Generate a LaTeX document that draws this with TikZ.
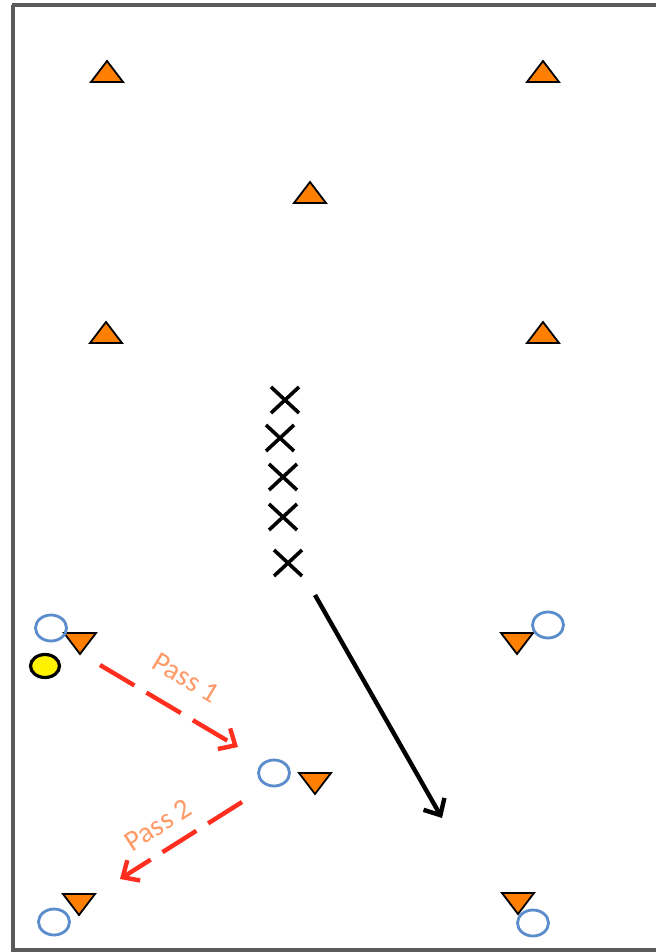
\documentclass[tikz,border=0pt]{standalone}
\usepackage{fontspec}
\setmainfont{Carlito}
\usetikzlibrary{arrows.meta,shapes.geometric}
\definecolor{cone}{HTML}{FF7F00}
\definecolor{plblue}{HTML}{5B8CCB}
\definecolor{passred}{HTML}{FF2E1F}
\definecolor{passtxt}{HTML}{FF9A66}
\definecolor{framegray}{HTML}{5A5A5A}
\tikzset{
  x=1pt, y=-1pt,
  frameline/.style={draw=framegray, line width=3.5pt},
  conestyle/.style={fill=cone, draw=black, line width=1.8pt, line join=miter},
  player/.style={draw=plblue, line width=2.8pt, ellipse, minimum width=31pt, minimum height=26pt, inner sep=0pt},
  ballstyle/.style={draw=black, fill=yellow, line width=3.2pt, ellipse, minimum width=29pt, minimum height=23pt, inner sep=0pt},
  xmark/.style={draw=black, line width=3.6pt},
  passline/.style={draw=passred, line width=4.4pt, dash pattern=on 40pt off 14pt, -{Straight Barb[length=13pt,width=24pt,line width=4.4pt]}},
  runline/.style={draw=black, line width=4.4pt, -{Straight Barb[length=13pt,width=24pt,line width=4.4pt]}},
  passlabel/.style={text=passtxt, font=\fontsize{29}{29}\selectfont, inner sep=1pt},
  pics/coneup/.style={code={\path[conestyle] (-16,10) -- (0,-11) -- (16,10) -- cycle;}},
  pics/conedown/.style={code={\path[conestyle] (-16,-10) -- (0,11) -- (16,-10) -- cycle;}},
  pics/xplayer/.style={code={\draw[xmark] (-14,-13) -- (14,13); \draw[xmark] (-14,13) -- (14,-13);}},
}
\begin{document}
\begin{tikzpicture}
\useasboundingbox (0,0) rectangle (656,952);
\fill[white] (0,0) rectangle (656,952);
% frame
\draw[frameline] (12,5) -- (656,5);
\draw[frameline] (13,5) -- (13,950) -- (656,950);
% cones up
\pic (c1) at (107,72) {coneup};
\pic (c2) at (543,72) {coneup};
\pic (c3) at (310,193) {coneup};
\pic (c4) at (106,333) {coneup};
\pic (c5) at (543,333) {coneup};
% cones down
\pic (d1) at (80,643) {conedown};
\pic (d2) at (517,643) {conedown};
\pic (d3) at (315,783) {conedown};
\pic (d4) at (79,904) {conedown};
\pic (d5) at (518,903) {conedown};
% players
\node[player] (p1) at (51,628) {};
\node[player] (p2) at (548,625) {};
\node[player] (p3) at (274,773) {};
\node[player] (p4) at (54,922) {};
\node[player] (p5) at (533,923) {};
% ball
\node[ballstyle] (ball) at (45,666) {};
% X players
\pic (x1) at (285,400) {xplayer};
\pic (x2) at (280,438) {xplayer};
\pic (x3) at (283,477) {xplayer};
\pic (x4) at (283,517) {xplayer};
\pic (x5) at (288,563) {xplayer};
% arrows
\coordinate (runA) at (315,595);
\coordinate (runB) at (442,818);
\draw[runline] (runA) -- (runB);
\coordinate (pass1A) at (100,665);
\coordinate (pass1B) at (238,747);
\draw[passline] (pass1A) -- (pass1B);
\coordinate (pass2A) at (242,802);
\coordinate (pass2B) at (120,879);
\draw[passline] (pass2A) -- (pass2B);
% labels
\node[passlabel, rotate=-31] (l1) at (186,678) {Pass 1};
\node[passlabel, rotate=33] (l2) at (158,825) {Pass 2};
\end{tikzpicture}
\end{document}
